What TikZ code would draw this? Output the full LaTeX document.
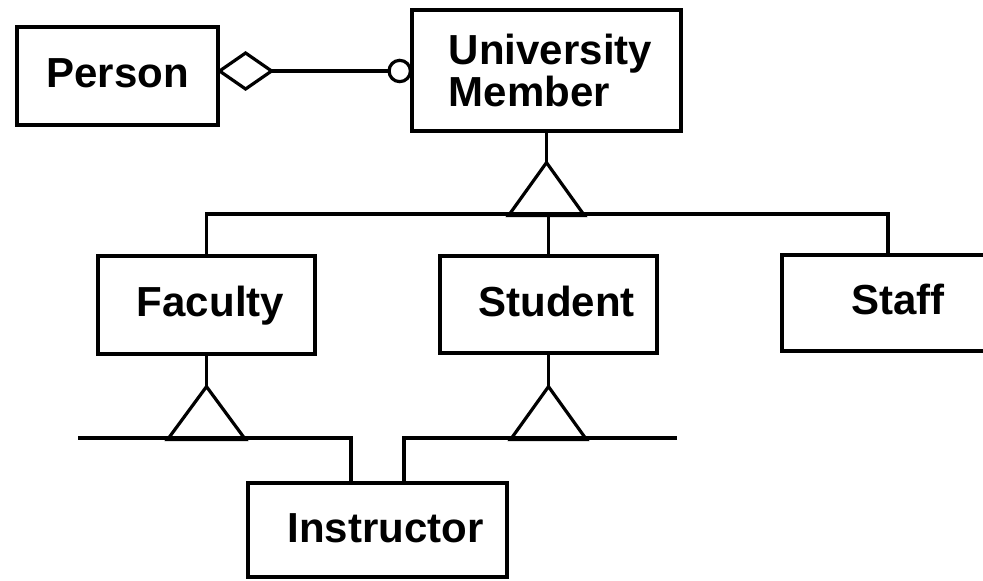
\documentclass[tikz,border=0pt]{standalone}
\usepackage{fontspec}
\setmainfont{Liberation Sans}
\begin{document}
\begin{tikzpicture}[x=0.75pt, y=-0.75pt, line width=2.4pt,
  cls/.style={draw, rectangle, inner sep=0pt,
    font=\fontsize{31.5}{31.5}\selectfont\bfseries},
  oneline/.style={text height=22.5pt, text depth=4.5pt},
  hollow/.style={draw, fill=white}]
\useasboundingbox (0,0) rectangle (983,581);

% classes
\node[cls, oneline, minimum width=150.75pt, minimum height=73.5pt] (person) at (117.5,76) {Person};
\node[cls, minimum width=201.75pt, minimum height=90.75pt, align=left] (um) at (546.5,70.5) {\hspace*{6pt}University\\\hspace*{6pt}Member};
\node[cls, oneline, minimum width=162.75pt, minimum height=73.5pt] (faculty) at (206.5,305) {\hspace*{6pt}Faculty};
\node[cls, oneline, minimum width=162.75pt, minimum height=72.75pt] (student) at (548.5,304.5) {\hspace*{12pt}Student};
\node[cls, oneline, minimum width=159pt, minimum height=72pt] (staff) at (888,303) {\hspace*{15pt}Staff};
\node[cls, oneline, minimum width=194.25pt, minimum height=70.5pt] (instructor) at (377.5,530) {\hspace*{12pt}Instructor};

% aggregation: Person <>---o University Member
\coordinate (row) at (0,71);
\coordinate (dL) at (person.east |- row);
\coordinate (cR) at (um.west |- row);
\draw[hollow] (dL) -- ++(26,-18) -- ++(26,18) coordinate (dR) -- ++(-26,18) -- cycle;
\draw (dR) -- ([xshift=-16pt]cR);
\draw[hollow] ([xshift=-8pt]cR) circle[radius=8pt];

% generalization of University Member
\coordinate (bar) at (0,214);
\draw (um.south) -- ++(0,30) coordinate (umA);
\draw (umA) -- ++(-38,53) -- ++(76,0) -- cycle;
\draw (faculty.north) -- (faculty.north |- bar) -- (staff.north |- bar) -- (staff.north);
\draw (student.north) -- (student.north |- bar);

% Faculty -> Instructor
\draw (faculty.south) -- ++(0,31) coordinate (fA);
\draw (fA) -- ++(-39,53) -- ++(78,0) -- cycle;
\coordinate (fbarL) at (78,438);
\coordinate (fbarR) at (351,438);
\draw (fbarL) -- (fbarR) -- (fbarR |- instructor.north);

% Student -> Instructor
\draw (student.south) -- ++(0,32) coordinate (sA);
\draw (sA) -- ++(-38,53) -- ++(76,0) -- cycle;
\coordinate (sbarL) at (404,438);
\coordinate (sbarR) at (677,438);
\draw (sbarR) -- (sbarL) -- (sbarL |- instructor.north);
\end{tikzpicture}
\end{document}
